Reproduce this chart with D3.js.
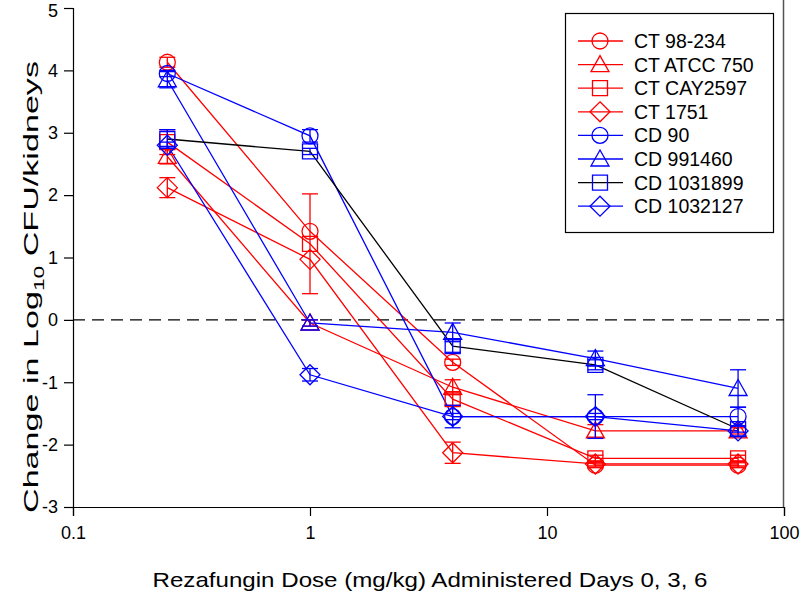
<!DOCTYPE html>
<html><head><meta charset="utf-8">
<script src="https://cdn.jsdelivr.net/npm/d3@7"></script>
<style>body{margin:0;background:#fff}svg{display:block}text{font-family:"Liberation Sans",Arial,sans-serif}</style>
</head><body><svg id="c" width="800" height="591"></svg>
<script>
const doses = [0.25, 1, 4, 16, 64];
const names = ["CT 98-234","CT ATCC 750","CT CAY2597","CT 1751","CD 90","CD 991460","CD 1031899","CD 1032127"];
const markerColors = ["#ff0000","#ff0000","#ff0000","#ff0000","#0000ff","#0000ff","#0000ff","#0000ff"];
const lineColors = ["#ff0000","#ff0000","#ff0000","#ff0000","#0000ff","#0000ff","#000000","#0000ff"];
const symbols = ["circle","triangle","square","diamond","circle","triangle","square","diamond"];
const values = [
  [4.13, 1.42, -0.68, -2.33, -2.33],
  [2.62, -0.05, -1.08, -1.78, -1.78],
  [2.85, 1.22, -1.27, -2.22, -2.22],
  [2.12, 0.97, -2.13, -2.31, -2.31],
  [3.95, 2.95, -1.55, -1.55, -1.55],
  [3.85, -0.05, -0.2, -0.62, -1.1],
  [2.9, 2.7, -0.42, -0.72, -1.75],
  [2.8, -0.88, -1.55, -1.55, -1.78]
];
const errors = [
  [0.08, 0, 0.05, 0.04, 0.04],
  [0.12, 0.05, 0.12, 0.1, 0.05],
  [0.2, 0.8, 0.1, 0.05, 0.05],
  [0.16, 0, 0.17, 0.05, 0.05],
  [0.05, 0.1, 0.05, 0.35, 0.15],
  [0.13, 0.05, 0.15, 0.12, 0.3],
  [0.15, 0.05, 0.1, 0.08, 0.05],
  [0.05, 0.1, 0.18, 0.05, 0.08]
];
const xTicks = [0.1, 1, 10, 100];
const xTickLabels = ["0.1","1","10","100"];
const yTicks = [-3,-2,-1,0,1,2,3,4,5];

const svg = d3.select("#c");
const x = d3.scaleLog().domain([0.1,100]).range([73,784]);
const y = d3.scaleLinear().domain([-3,5]).range([507,8]);

// frame right
svg.append("line").attr("x1",783.5).attr("x2",783.5).attr("y1",0).attr("y2",507).attr("stroke","#555").attr("stroke-width",1.5);

// axes
const yAxis = d3.axisLeft(y).tickValues(yTicks).tickSize(9).tickPadding(6).tickFormat(d => String(d));
const gy = svg.append("g").attr("transform","translate(73,0)").call(yAxis);
gy.select(".domain").attr("stroke","#000").attr("stroke-width",1.2);
gy.selectAll(".tick line").attr("stroke","#000").attr("stroke-width",1.2);
gy.selectAll("text").attr("font-size",18).attr("fill","#000");
gy.selectAll(".tick").filter(d => d === 5).select("text").attr("dy","0.45em");

const gx = svg.append("g").attr("transform","translate(0,507)")
  .call(d3.axisBottom(x).tickValues(xTicks).tickSize(9).tickPadding(10).tickFormat((d,i) => xTickLabels[i]));
gx.select(".domain").attr("stroke","#000").attr("stroke-width",1.2);
gx.selectAll(".tick line").attr("stroke","#000").attr("stroke-width",1.2);
gx.selectAll("text").attr("font-size",18).attr("fill","#000");

// zero dashed line
svg.append("line").attr("x1",x(0.1)).attr("x2",x(100)).attr("y1",y(0)).attr("y2",y(0))
  .attr("stroke","#000").attr("stroke-width",1.2).attr("stroke-dasharray","12,7");

function sym(g, type, color) {
  const s = g.append("path").attr("fill","none").attr("stroke",color).attr("stroke-width",1.3);
  if (type==="circle") s.attr("d", d3.arc()({innerRadius:0,outerRadius:8,startAngle:0,endAngle:2*Math.PI}));
  if (type==="triangle") s.attr("d","M0,-9L9,7L-9,7Z");
  if (type==="square") s.attr("d","M-7.5,-7.5H7.5V7.5H-7.5Z");
  if (type==="diamond") s.attr("d","M0,-10L10,0L0,10L-10,0Z");
}

const line = d3.line().x((d,i)=>x(doses[i])).y(d=>y(d));
names.forEach((n,si)=>{
  svg.append("path").datum(values[si]).attr("d",line).attr("fill","none")
    .attr("stroke",lineColors[si]).attr("stroke-width",1.3);
});
names.forEach((n,si)=>{
  values[si].forEach((v,i)=>{
    const e = errors[si][i];
    const g = svg.append("g").attr("transform",`translate(${x(doses[i])},${y(v)})`);
    if (e>0) {
      const c = markerColors[si];
      const dy = y(v-e)-y(v);
      g.append("line").attr("x1",0).attr("x2",0).attr("y1",-dy).attr("y2",dy).attr("stroke",c).attr("stroke-width",1.3);
      [-dy,dy].forEach(yy=>g.append("line").attr("x1",-8).attr("x2",8).attr("y1",yy).attr("y2",yy).attr("stroke",c).attr("stroke-width",1.3));
    }
    sym(g, symbols[si], markerColors[si]);
  });
});

// legend
const lg = svg.append("g");
lg.append("rect").attr("x",565.5).attr("y",13.5).attr("width",208).attr("height",219)
  .attr("fill","#fff").attr("stroke","#000").attr("stroke-width",1.2);
names.forEach((n,si)=>{
  const yy = 41 + si*23.6;
  lg.append("line").attr("x1",578).attr("x2",623).attr("y1",yy).attr("y2",yy).attr("stroke",lineColors[si]).attr("stroke-width",1.3);
  const g = lg.append("g").attr("transform",`translate(600,${yy})`);
  sym(g, symbols[si], markerColors[si]);
  lg.append("text").attr("x",634).attr("y",yy).attr("dy","0.36em").attr("font-size",19.5).text(n);
});

// titles
svg.append("text").attr("x",430).attr("y",587).attr("text-anchor","middle").attr("font-size",21)
  .attr("textLength",555).attr("lengthAdjust","spacingAndGlyphs")
  .text("Rezafungin Dose (mg/kg) Administered Days 0, 3, 6");
const yt = svg.append("text").attr("transform","translate(38,287) rotate(-90)").attr("text-anchor","middle").attr("font-size",21)
  .attr("textLength",452).attr("lengthAdjust","spacingAndGlyphs");
yt.append("tspan").text("Change in Log");
yt.append("tspan").attr("font-size",14).attr("dy",6).text("10");
yt.append("tspan").attr("dy",-6).text(" CFU/kidneys");
</script></body></html>
